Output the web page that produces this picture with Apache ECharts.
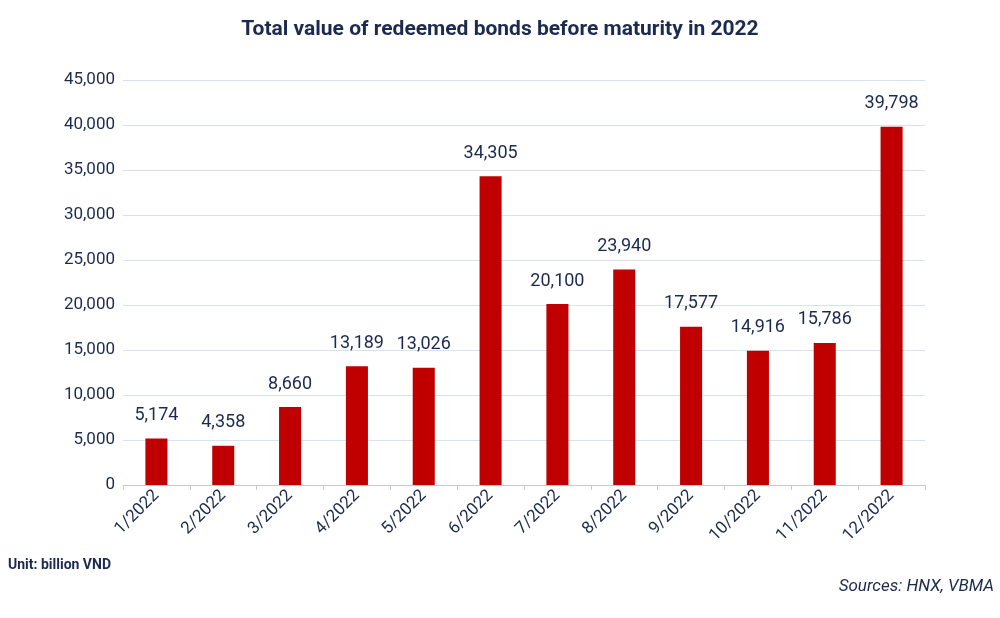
<!DOCTYPE html>
<html>
<head>
<meta charset="utf-8">
<script src="https://cdn.jsdelivr.net/npm/echarts@6/dist/echarts.min.js"></script>
<style>html,body{margin:0;background:#fff}#chart{width:1000px;height:618px}</style>
</head>
<body>
<div id="chart"></div>
<script>
// Data
const months = ['1/2022', '2/2022', '3/2022', '4/2022', '5/2022', '6/2022', '7/2022', '8/2022', '9/2022', '10/2022', '11/2022', '12/2022'];
const redeemed = [5174, 4358, 8660, 13189, 13026, 34305, 20100, 23940, 17577, 14916, 15786, 39798];

const navy = '#1b2a4e';
const chart = echarts.init(document.getElementById('chart'));
chart.setOption({
  animation: false,
  textStyle: { fontFamily: 'Roboto' },
  title: {
    text: 'Total value of redeemed bonds before maturity in 2022',
    left: 'center',
    top: 14,
    textStyle: { color: navy, fontSize: 21, fontWeight: 'bold', fontFamily: 'Roboto' }
  },
  graphic: [
    { type: 'text', left: 8, top: 558, style: { text: 'Unit: billion VND', fill: navy, font: 'bold 14px Roboto' } },
    { type: 'text', right: 6, top: 578, style: { text: 'Sources: HNX, VBMA', fill: navy, font: 'italic 17px Roboto' } }
  ],
  grid: { left: 123, right: 75, top: 80, bottom: 133 },
  xAxis: {
    type: 'category',
    data: months,
    axisLine: { lineStyle: { color: '#c8c8c8' } },
    axisTick: { show: true, lineStyle: { color: '#c8c8c8' } },
    axisLabel: { color: navy, fontSize: 17, rotate: 45, interval: 0 }
  },
  yAxis: {
    type: 'value',
    min: 0,
    max: 45000,
    interval: 5000,
    axisLine: { show: false },
    axisLabel: { color: navy, fontSize: 17, formatter: v => v.toLocaleString('en-US') },
    splitLine: { lineStyle: { color: '#d6e3ef' } }
  },
  series: [{
    type: 'bar',
    data: redeemed,
    barWidth: '33%',
    itemStyle: { color: '#c00000' },
    label: {
      show: true,
      position: 'top',
      distance: 14,
      color: navy,
      fontSize: 18,
      formatter: p => p.value.toLocaleString('en-US')
    }
  }]
});
</script>
</body>
</html>
